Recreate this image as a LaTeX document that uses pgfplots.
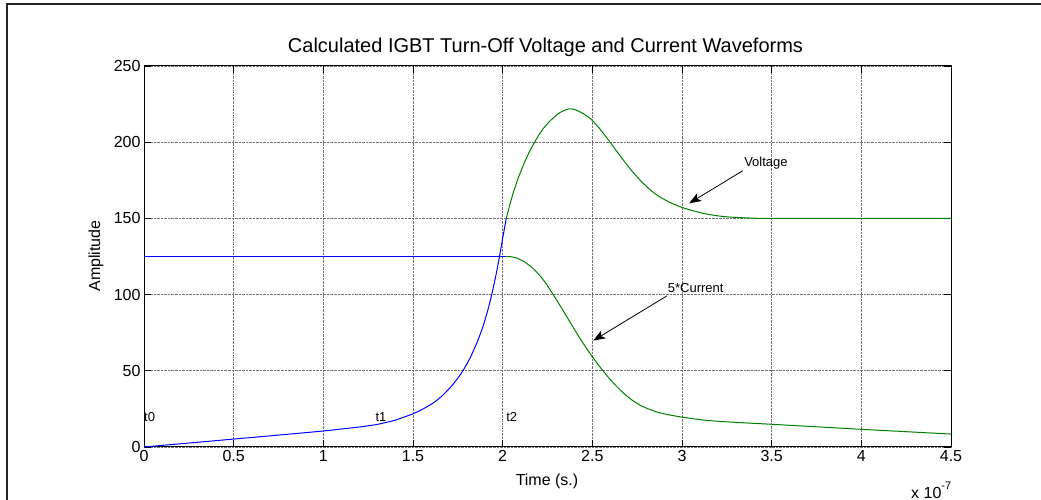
\documentclass[border=0pt]{standalone}
\usepackage{fontspec}
\setmainfont{Liberation Sans}
\usepackage{pgfplots}
\pgfplotsset{compat=1.18}
\usetikzlibrary{arrows.meta}
\definecolor{mgreen}{RGB}{0,128,0}
\definecolor{mblue}{RGB}{0,0,255}
\begin{document}
\begin{tikzpicture}[x=1bp,y=1bp]
\useasboundingbox (0,0) rectangle (1041,500);
\draw[line width=2bp, black!85] (7,0) -- (7,496) -- (1041,496);
\begin{axis}[
  at={(144bp,53bp)}, anchor=south west,
  width=807bp, height=381bp, scale only axis,
  xmin=0, xmax=4.5, ymin=0, ymax=250,
  xtick={0,0.5,1,1.5,2,2.5,3,3.5,4,4.5},
  ytick={0,50,100,150,200,250},
  xtick pos=both, ytick pos=both,
  tick align=inside, major tick length=7bp,
  grid=major, grid style={densely dotted, black!55, line width=0.7bp},
  axis line style={line width=1bp, black},
  tick style={black, line width=0.8bp},
  tick label style={font=\fontsize{16bp}{19bp}\selectfont},
  /pgf/number format/assume math mode=true,
  clip=false,
]
% blue: rising voltage
\addplot[mblue, line width=1bp, smooth, tension=0.3] coordinates {
(0,0) (0.25,2.6) (0.5,5.2) (0.75,7.8) (1.0,10.5) (1.1,11.8) (1.2,13.1) (1.3,14.8)
(1.4,17.6) (1.5,21.8) (1.56,25.2) (1.617,29.2) (1.66,33.3) (1.71,39.3) (1.75,45.2)
(1.785,51.3) (1.82,58.8) (1.86,69.4) (1.89,79.0) (1.915,88.8) (1.935,98.0) (1.955,108.5)
(1.97,117.2) (1.983,125.5) (2.0,137) (2.02,150)
};
% blue: constant current
\addplot[mblue, line width=1bp] coordinates {(0,125) (2.02,125)};
% green: voltage overshoot
\addplot[mgreen, line width=1bp, smooth, tension=0.3] coordinates {
(2.02,150) (2.04,159) (2.062,168) (2.09,177.5) (2.118,185.7) (2.15,194) (2.183,201.1)
(2.22,208) (2.267,214.3) (2.32,219.5) (2.369,221.9) (2.40,221.5) (2.435,219.7)
(2.47,217.2) (2.5,214.3) (2.54,209.0) (2.584,202.3) (2.63,195.0) (2.677,187.6)
(2.72,181.2) (2.77,174.6) (2.82,169.0) (2.864,165.0) (2.93,160.6) (3.0,157.2)
(3.07,154.7) (3.144,152.7) (3.21,151.5) (3.274,150.8) (3.386,150.2) (3.5,150) (4.5,150)
};
% green: current fall
\addplot[mgreen, line width=1bp, smooth, tension=0.3] coordinates {
(2.02,125) (2.05,124.8) (2.08,123.9) (2.12,121.6) (2.155,118.6) (2.18,115.9)
(2.211,112) (2.245,106.7) (2.276,101) (2.32,92.8) (2.36,85) (2.40,77.2) (2.435,70.5)
(2.47,64.3) (2.5,59.2) (2.54,52.9) (2.584,46.4) (2.63,40.4) (2.677,35.0) (2.72,30.9)
(2.77,27.2) (2.82,24.6) (2.864,22.8) (2.93,21.0) (3.0,19.6) (3.07,18.4) (3.144,17.4)
(3.25,16.5) (3.386,15.6) (3.5,14.9) (4.0,11.6) (4.5,8.5)
};
\draw[-{Stealth[length=12bp,width=9bp,inset=3bp]}, line width=0.8bp]
  (axis cs:3.339,181.3) -- (axis cs:3.04,159.9);
\draw[-{Stealth[length=12bp,width=9bp,inset=3bp]}, line width=0.8bp]
  (axis cs:2.915,99.1) -- (axis cs:2.505,69.8);
\node[anchor=west, inner sep=0, font=\fontsize{13bp}{15bp}\selectfont] at (axis cs:3.346,186.4) {Voltage};
\node[anchor=west, inner sep=0, font=\fontsize{13bp}{15bp}\selectfont] at (axis cs:2.92,104.5) {5*Current};
\node[anchor=west, inner sep=0, font=\fontsize{13bp}{15bp}\selectfont] at (axis cs:0.0,19.5) {t0};
\node[anchor=west, inner sep=0, font=\fontsize{13bp}{15bp}\selectfont] at (axis cs:1.29,19.5) {t1};
\node[anchor=west, inner sep=0, font=\fontsize{13bp}{15bp}\selectfont] at (axis cs:2.019,19.5) {t2};
\end{axis}
\node[font=\fontsize{20bp}{24bp}\selectfont] at (545.5,453) {Calculated IGBT Turn-Off Voltage and Current Waveforms};
\node[font=\fontsize{16bp}{19bp}\selectfont] at (547,18.3) {Time (s.)};
\node[font=\fontsize{16bp}{19bp}\selectfont, rotate=90] at (96,244) {Amplitude};
\node[anchor=west, inner sep=0, font=\fontsize{16bp}{19bp}\selectfont] at (911,10) {x 10\raisebox{0.55em}{\fontsize{11bp}{13bp}\selectfont -7}};
\end{tikzpicture}
\end{document}
